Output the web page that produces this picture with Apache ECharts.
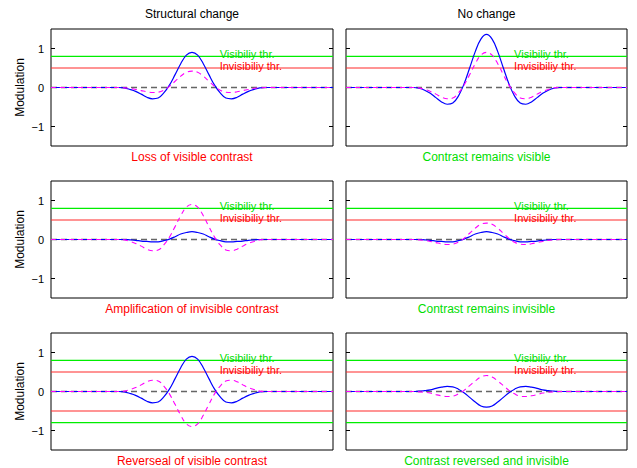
<!DOCTYPE html>
<html>
<head>
<meta charset="utf-8">
<script src="https://cdn.jsdelivr.net/npm/echarts@6/dist/echarts.min.js"></script>
<style>
html, body { margin: 0; padding: 0; background: #fff; }
#chart { width: 637px; height: 468px; }
</style>
</head>
<body>
<div id="chart"></div>
<script>
// sample positions along the (hidden) x axis, panel spans 0..100
var xPos = [0, 24, 26, 28, 30, 32, 34, 36, 38, 40, 42, 44, 46, 48, 50, 52, 54, 56, 58, 60, 62, 64, 66, 68, 70, 72, 74, 76, 100];

// values (blue = solid, mag = dashed magenta)
var tlBlue = [0, 0, -0.01, -0.05, -0.10, -0.17, -0.25, -0.29, -0.27, -0.14, 0.06, 0.33, 0.61, 0.83, 0.90, 0.83, 0.61, 0.33, 0.06, -0.14, -0.27, -0.29, -0.25, -0.17, -0.10, -0.05, -0.01, 0, 0];
var tlMag  = [0, 0, -0.01, -0.02, -0.05, -0.08, -0.11, -0.13, -0.12, -0.07, 0.03, 0.16, 0.29, 0.39, 0.42, 0.39, 0.29, 0.16, 0.03, -0.07, -0.12, -0.13, -0.11, -0.08, -0.05, -0.02, -0.01, 0, 0];
var trBlue = [0, 0, -0.02, -0.07, -0.15, -0.26, -0.37, -0.43, -0.40, -0.22, 0.09, 0.50, 0.92, 1.24, 1.36, 1.24, 0.92, 0.50, 0.09, -0.22, -0.40, -0.43, -0.37, -0.26, -0.15, -0.07, -0.02, 0, 0];
var trMag  = [0, 0, -0.01, -0.05, -0.10, -0.17, -0.25, -0.29, -0.27, -0.14, 0.06, 0.33, 0.61, 0.83, 0.90, 0.83, 0.61, 0.33, 0.06, -0.14, -0.27, -0.29, -0.25, -0.17, -0.10, -0.05, -0.01, 0, 0];
var mlBlue = [0, 0, 0, -0.01, -0.02, -0.04, -0.05, -0.06, -0.06, -0.03, 0.01, 0.07, 0.14, 0.18, 0.20, 0.18, 0.14, 0.07, 0.01, -0.03, -0.06, -0.06, -0.05, -0.04, -0.02, -0.01, 0, 0, 0];
var mlMag  = [0, 0, -0.01, -0.05, -0.10, -0.17, -0.25, -0.29, -0.27, -0.14, 0.06, 0.33, 0.61, 0.83, 0.90, 0.83, 0.61, 0.33, 0.06, -0.14, -0.27, -0.29, -0.25, -0.17, -0.10, -0.05, -0.01, 0, 0];
var mrBlue = [0, 0, 0, -0.01, -0.02, -0.04, -0.05, -0.06, -0.06, -0.03, 0.01, 0.07, 0.14, 0.18, 0.20, 0.18, 0.14, 0.07, 0.01, -0.03, -0.06, -0.06, -0.05, -0.04, -0.02, -0.01, 0, 0, 0];
var mrMag  = [0, 0, -0.01, -0.02, -0.05, -0.08, -0.11, -0.13, -0.12, -0.07, 0.03, 0.16, 0.29, 0.39, 0.42, 0.39, 0.29, 0.16, 0.03, -0.07, -0.12, -0.13, -0.11, -0.08, -0.05, -0.02, -0.01, 0, 0];
var blBlue = [0, 0, -0.01, -0.05, -0.10, -0.17, -0.25, -0.29, -0.27, -0.14, 0.06, 0.33, 0.61, 0.83, 0.90, 0.83, 0.61, 0.33, 0.06, -0.14, -0.27, -0.29, -0.25, -0.17, -0.10, -0.05, -0.01, 0, 0];
var blMag  = [0, 0, 0.01, 0.05, 0.10, 0.17, 0.25, 0.29, 0.27, 0.14, -0.06, -0.33, -0.61, -0.83, -0.90, -0.83, -0.61, -0.33, -0.06, 0.14, 0.27, 0.29, 0.25, 0.17, 0.10, 0.05, 0.01, 0, 0];
var brBlue = [0, 0, 0.01, 0.02, 0.04, 0.08, 0.11, 0.13, 0.12, 0.06, -0.03, -0.15, -0.27, -0.37, -0.40, -0.37, -0.27, -0.15, -0.03, 0.06, 0.12, 0.13, 0.11, 0.08, 0.04, 0.02, 0.01, 0, 0];
var brMag  = [0, 0, -0.01, -0.02, -0.04, -0.08, -0.11, -0.13, -0.12, -0.06, 0.03, 0.15, 0.27, 0.37, 0.41, 0.37, 0.27, 0.15, 0.03, -0.06, -0.12, -0.13, -0.11, -0.08, -0.04, -0.02, -0.01, 0, 0];

var blueSets = [tlBlue, trBlue, mlBlue, mrBlue, blBlue, brBlue];
var magSets  = [tlMag, trMag, mlMag, mrMag, blMag, brMag];

var colTitles = ['Structural change', 'No change'];
var captions = ['Loss of visible contrast', 'Contrast remains visible',
                'Amplification of invisible contrast', 'Contrast remains invisible',
                'Reverseal of visible contrast', 'Contrast reversed and invisible'];
var visThr = 0.8;
var invisThr = 0.5;
var thrNames = ['Visibiliy thr.', 'Invisibiliy thr.'];
var yTicks = [-1, 0, 1];

var RED = '#ff0000', GREEN = '#00dd00';
var FONT = '"Liberation Sans", Arial, Helvetica, sans-serif';

var gridLeft = [51, 346], gridWidth = [282, 281];
var gridTop = [29, 181, 333], gridH = 117;

var myChart = echarts.init(document.getElementById('chart'), null, {renderer: 'svg'});

var grids = [], xAxes = [], yAxes = [], series = [], graphics = [];

function pairs(ys) {
    return xPos.map(function (x, k) { return [x, ys[k]]; });
}
function hline(v) {
    return [[xPos[0], v], [xPos[xPos.length - 1], v]];
}

for (var i = 0; i < 6; i++) {
    var row = Math.floor(i / 2), col = i % 2;
    grids.push({
        left: gridLeft[col], top: gridTop[row], width: gridWidth[col], height: gridH,
        show: true, borderColor: '#000', borderWidth: 1, backgroundColor: '#fff'
    });
    xAxes.push({gridIndex: i, type: 'value', min: 0, max: 100, show: false});
    var yBase = {
        gridIndex: i, type: 'value', min: -1.5, max: 1.5,
        axisLine: {show: false},
        splitLine: {show: false},
        axisTick: {show: true, inside: true, length: 4, customValues: yTicks, lineStyle: {color: '#000'}}
    };
    yAxes.push(Object.assign({}, yBase, {
        position: 'left',
        name: col === 0 ? 'Modulation' : '',
        nameLocation: 'middle', nameGap: 25,
        nameTextStyle: {color: '#000', fontSize: 12, fontFamily: FONT},
        axisLabel: {
            show: col === 0, customValues: yTicks, margin: 7,
            color: '#000', fontSize: 11, fontFamily: FONT,
            formatter: function (v) { return String(v).replace('-', '\u2212'); }
        }
    }));
    yAxes.push(Object.assign({}, yBase, {position: 'right', axisLabel: {show: false}}));

    var thrList = [visThr, invisThr];
    if (row === 2) thrList = thrList.concat([-invisThr, -visThr]);
    thrList.forEach(function (t, k) {
        var isVis = Math.abs(t) === visThr;
        var s = {
            type: 'line', xAxisIndex: i, yAxisIndex: 2 * i, data: hline(t),
            symbol: 'none', silent: true,
            lineStyle: {color: isVis ? '#00ee00' : '#ff2a2a', width: 1.2}
        };
        if (k < 2) {
            s.markPoint = {
                symbol: 'circle', symbolSize: 1, silent: true,
                itemStyle: {color: 'rgba(0,0,0,0)'},
                label: {
                    show: true, position: 'right', distance: 0, offset: [-1, -2.5],
                    formatter: thrNames[k], color: isVis ? GREEN : RED,
                    fontSize: 11, lineHeight: 11, fontFamily: FONT
                },
                data: [{coord: [60, t]}]
            };
        }
        series.push(s);
    });
    series.push({
        type: 'line', xAxisIndex: i, yAxisIndex: 2 * i, data: hline(0),
        symbol: 'none', silent: true,
        lineStyle: {color: '#666', width: 1.5, type: [6, 4]}
    });
    series.push({
        type: 'line', xAxisIndex: i, yAxisIndex: 2 * i, data: pairs(blueSets[i]),
        symbol: 'none', silent: true, smooth: 0.4,
        lineStyle: {color: '#0000ff', width: 1.2}
    });
    series.push({
        type: 'line', xAxisIndex: i, yAxisIndex: 2 * i, data: pairs(magSets[i]),
        symbol: 'none', silent: true, smooth: 0.4,
        lineStyle: {color: '#ff00ff', width: 1.1, type: [5, 4]}
    });

    graphics.push({
        type: 'text',
        style: {
            text: captions[i], x: gridLeft[col] + gridWidth[col] / 2,
            y: gridTop[row] + gridH + 11, align: 'center', verticalAlign: 'middle',
            fill: col === 0 ? RED : GREEN, fontSize: 12, fontFamily: FONT
        }
    });
}

colTitles.forEach(function (t, c) {
    graphics.push({
        type: 'text',
        style: {
            text: t, x: gridLeft[c] + gridWidth[c] / 2, y: 14,
            align: 'center', verticalAlign: 'middle',
            fill: '#000', fontSize: 12, fontFamily: FONT
        }
    });
});

var option = {
    animation: false,
    backgroundColor: '#fff',
    grid: grids,
    xAxis: xAxes,
    yAxis: yAxes,
    series: series,
    graphic: graphics
};
myChart.setOption(option);
</script>
</body>
</html>
